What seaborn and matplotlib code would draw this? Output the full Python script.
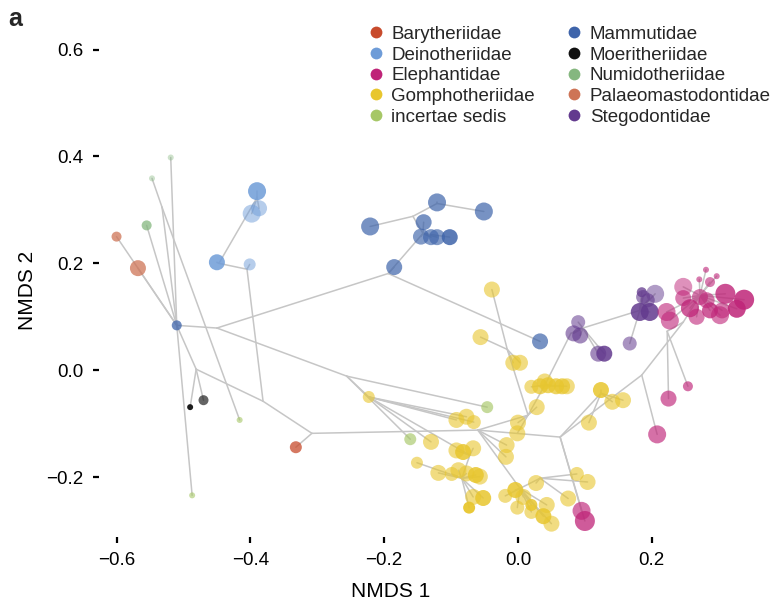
import matplotlib
matplotlib.use("Agg")
import matplotlib.pyplot as plt
from matplotlib.lines import Line2D
import numpy as np
import pandas as pd
import seaborn as sns

# ---- families and colours -------------------------------------------------
families = ["Barytheriidae", "Deinotheriidae", "Elephantidae", "Gomphotheriidae",
            "incertae sedis", "Mammutidae", "Moeritheriidae", "Numidotheriidae",
            "Palaeomastodontidae", "Stegodontidae"]
family_colors = ["#C84B2C", "#6E9CD8", "#BF2478", "#E8C62E", "#A6C766",
                 "#3E64AA", "#111111", "#85B77F", "#CE7456", "#633A8E"]

# ---- internal nodes of the phylogeny (NMDS coordinates) --------------------
node_name = ["R", "B", "N", "E1", "E2", "E3", "D1", "D2", "D3", "M0", "M1", "M2", "M3",
             "G0", "Y0", "EM0", "YA", "YB", "YC", "YD", "YE", "Y1", "YF", "ST0", "ST1",
             "EL0", "EL1", "EL2", "EL3", "PU0", "PU1", "PU2"]
node_x = [-0.510, -0.450, -0.532, -0.481, -0.381, -0.308, -0.405, -0.447, -0.390,
          -0.194, -0.142, -0.157, -0.121, -0.256, -0.223, -0.060, -0.072, -0.084,
          0.003, 0.033, 0.015, -0.016, 0.040, 0.063, 0.124, 0.185, 0.247, 0.272,
          0.223, 0.079, 0.097, 0.182]
node_y = [0.084, 0.079, 0.305, 0.002, -0.058, -0.118, 0.189, 0.200, 0.323,
          0.181, 0.256, 0.288, 0.312, -0.011, -0.050, -0.112, -0.159, -0.202,
          -0.221, -0.202, -0.084, 0.039, -0.028, -0.125, -0.043, -0.009, 0.090,
          0.140, 0.073, 0.069, 0.079, 0.112]
node_parent = [None, "R", "R", "R", "E1", "E2", "E2", "D1", "D2", "B", "M0", "M1", "M2",
               "B", "G0", "E3", "Y0", "YA", "EM0", "YC", "EM0", "YE", "YE", "EM0", "ST0",
               "ST0", "EL0", "EL1", "EL1", "YF", "PU0", "PU1"]

# ---- taxa (tips) ------------------------------------------------------------
tip_family = (["Palaeomastodontidae"] * 2 + ["Numidotheriidae"] * 3 + ["Deinotheriidae"] * 5
              + ["Mammutidae"] + ["Moeritheriidae"] * 2 + ["incertae sedis"] * 4
              + ["Barytheriidae"] + ["Mammutidae"] * 10 + ["Gomphotheriidae"] * 51
              + ["Stegodontidae"] * 12 + ["Elephantidae"] * 23)
tip_x = [-0.600, -0.568, -0.555, -0.547, -0.519, -0.390, -0.398, -0.387, -0.450, -0.401,
         -0.510, -0.470, -0.490, -0.416, -0.487, -0.046, -0.161, -0.332,
         -0.221, -0.185, -0.121, -0.141, -0.051, -0.145, -0.130, -0.121, -0.102, 0.033,
         # Gomphotheriidae
         -0.039, -0.056, -0.007, 0.003, 0.020, 0.033, 0.045, 0.040, 0.057, 0.066,
         0.073, 0.028, 0.124, 0.141, 0.157, 0.106, -0.092, -0.077, -0.066, 0.000,
         -0.001, -0.130, -0.092, -0.082, -0.067, -0.017, -0.018, -0.151, -0.119, -0.099,
         -0.089, -0.077, -0.063, -0.057, -0.067, -0.052, -0.073, -0.019, -0.004, 0.008,
         -0.001, 0.020, 0.020, 0.038, 0.043, 0.050, 0.027, 0.075, 0.088, 0.104, -0.223,
         # Stegodontidae
         0.090, 0.083, 0.093, 0.120, 0.129, 0.167, 0.185, 0.205, 0.187, 0.194, 0.182, 0.197,
         # Elephantidae
         0.247, 0.222, 0.227, 0.247, 0.257, 0.267, 0.282, 0.287, 0.302, 0.310, 0.327,
         0.338, 0.281, 0.271, 0.297, 0.287, 0.225, 0.254, 0.208, 0.095, 0.100, 0.272, 0.305]
tip_y = [0.250, 0.191, 0.271, 0.359, 0.398, 0.335, 0.293, 0.303, 0.202, 0.198,
         0.084, -0.056, -0.069, -0.093, -0.234, -0.069, -0.129, -0.144,
         0.269, 0.193, 0.314, 0.277, 0.297, 0.250, 0.249, 0.249, 0.249, 0.054,
         # Gomphotheriidae
         0.151, 0.062, 0.014, 0.014, -0.031, -0.030, -0.028, -0.021, -0.030, -0.030,
         -0.030, -0.069, -0.037, -0.059, -0.056, -0.098, -0.093, -0.087, -0.097, -0.098,
         -0.118, -0.134, -0.150, -0.153, -0.146, -0.140, -0.162, -0.173, -0.192, -0.194,
         -0.187, -0.193, -0.196, -0.199, -0.237, -0.239, -0.257, -0.235, -0.224, -0.237,
         -0.257, -0.252, -0.265, -0.273, -0.252, -0.287, -0.211, -0.240, -0.194, -0.209, -0.050,
         # Stegodontidae
         0.090, 0.069, 0.065, 0.031, 0.031, 0.050, 0.146, 0.143, 0.137, 0.131, 0.109, 0.109,
         # Elephantidae
         0.156, 0.109, 0.093, 0.135, 0.116, 0.100, 0.131, 0.112, 0.103, 0.143, 0.115,
         0.132, 0.188, 0.170, 0.176, 0.165, -0.053, -0.030, -0.120, -0.263, -0.282, 0.137, 0.112]
# body-size class (drives marker area)
tip_mass = [5, 8, 5, 3, 3, 9, 9, 8, 8, 6,
            5, 5, 3, 3, 3, 6, 6, 6,
            9, 8, 9, 8, 9, 8, 8, 8, 8, 8,
            8, 8, 8, 8, 7, 8, 8, 8, 8, 8,
            8, 8, 8, 8, 8, 8, 8, 8, 7, 8,
            8, 8, 8, 8, 8, 8, 8, 6, 8, 7,
            8, 8, 8, 8, 8, 8, 6, 7, 8, 8,
            7, 6, 7, 8, 8, 8, 8, 8, 7, 8, 6,
            7, 8, 8, 8, 8, 7, 5, 9, 7, 7, 9, 9,
            9, 9, 9, 8, 9, 8, 8, 8, 9, 10, 9,
            10, 3, 3, 3, 5, 8, 5, 9, 9, 10, 8, 8]
# stratigraphic recency (later taxa drawn more opaque)
tip_recency = [0.75, 0.75, 0.75, 0.4, 0.4, 0.85, 0.5, 0.5, 0.85, 0.5,
               0.75, 0.65, 0.95, 0.6, 0.6, 0.65, 0.65, 0.75,
               0.7, 0.7, 0.7, 0.7, 0.7, 0.65, 0.65, 0.65, 0.85, 0.7,
               0.6, 0.6, 0.6, 0.6, 0.6, 0.75, 0.75, 0.6, 0.75, 0.75,
               0.6, 0.6, 0.85, 0.6, 0.6, 0.6, 0.6, 0.6, 0.6, 0.6,
               0.6, 0.6, 0.6, 0.85, 0.6, 0.6, 0.6, 0.6, 0.6, 0.6,
               0.6, 0.6, 0.85, 0.6, 0.6, 0.85, 0.95, 0.6, 0.85, 0.6,
               0.6, 0.85, 0.6, 0.85, 0.6, 0.6, 0.6, 0.6, 0.6, 0.6, 0.6,
               0.55, 0.6, 0.6, 0.6, 0.85, 0.55, 0.75, 0.5, 0.6, 0.6, 0.85, 0.85,
               0.5, 0.6, 0.6, 0.6, 0.75, 0.6, 0.6, 0.75, 0.6, 0.8, 0.85,
               0.85, 0.6, 0.6, 0.6, 0.6, 0.65, 0.65, 0.65, 0.65, 0.75, 0.6, 0.6]
tip_parent = (["R", "R", "R", "N", "R", "D3", "D3", "D3", "D2", "D1",
               "R", "E1", "E1", "N", "R", "G0", "G0", "E3",
               "M2", "M0", "M3", "M1", "M3", "M1", "M1", "M1", "M1", "M0"]
              + ["Y1"] * 4 + ["YF"] * 7 + ["YE"] + ["ST1"] * 4 + ["Y0"] * 3 + ["YE"] * 2
              + ["Y0"] + ["YA"] * 3 + ["EM0"] * 2 + ["YB"] * 10 + ["YC"] * 9 + ["YD"] * 4
              + ["Y0"]
              + ["PU1"] * 5 + ["PU2"] * 7
              + ["EL2"] * 16 + ["EL3"] * 2 + ["EL0"] + ["ST0"] * 2 + ["EL2"] * 2)

# ---- assemble tables ------------------------------------------------------
tips = pd.DataFrame({"family": tip_family, "x": tip_x, "y": tip_y,
                     "mass": tip_mass, "recency": tip_recency, "parent": tip_parent})
nodes = pd.DataFrame({"name": node_name, "x": node_x, "y": node_y,
                      "parent": node_parent}).set_index("name")

rows = []
eid = 0
for name, nd in nodes.iterrows():
    if nd["parent"] is None:
        continue
    p = nodes.loc[nd["parent"]]
    rows += [(eid, p["x"], p["y"]), (eid, nd["x"], nd["y"])]
    eid += 1
for _, t in tips.iterrows():
    p = nodes.loc[t["parent"]]
    rows += [(eid, p["x"], p["y"]), (eid, t["x"], t["y"])]
    eid += 1
edges = pd.DataFrame(rows, columns=["edge", "x", "y"])

# ---- figure ---------------------------------------------------------------
sns.set_theme(style="white")
plt.rcParams["font.family"] = ["Liberation Sans", "DejaVu Sans"]

fig = plt.figure(figsize=(7.78, 6.12), dpi=100)
ax = fig.add_axes([0.127, 0.1225, 0.863, 0.8315])

sns.lineplot(data=edges, x="x", y="y", units="edge", estimator=None, sort=False,
             color="#C6C6C6", linewidth=1.1, legend=False, ax=ax, zorder=1)

palette = dict(zip(families, family_colors))
size_levels = sorted(set(tip_mass))
size_map = {m: (1.44 * m) ** 2 for m in size_levels}
sns.scatterplot(data=tips, x="x", y="y", hue="family", hue_order=families,
                palette=palette, size="mass", sizes=size_map, linewidth=0,
                legend=False, ax=ax, zorder=2)
coll = ax.collections[-1]
fc = coll.get_facecolors()
fc[:, 3] = tips["recency"].to_numpy()
coll.set_facecolors(fc)

ax.set_xlim(-0.6265, 0.377)
ax.set_ylim(-0.312, 0.64)
ax.set_xticks([-0.6, -0.4, -0.2, 0.0, 0.2])
ax.set_yticks([-0.2, 0.0, 0.2, 0.4, 0.6])
sns.despine(ax=ax, left=True, bottom=True)
ax.tick_params(axis="both", which="both", direction="out", length=4, width=1.6,
               color="black", labelsize=13.5, labelcolor="black", pad=7,
               left=True, bottom=True)
ax.set_xlabel("NMDS 1", fontsize=15, labelpad=9, color="black")
ax.set_ylabel("NMDS 2", fontsize=15, labelpad=7, color="black")
ax.xaxis.label.set_x(0.434)
ax.yaxis.label.set_y(0.485)

handles = [Line2D([], [], marker="o", linestyle="", markersize=8.5,
                  markerfacecolor=c, markeredgewidth=0, label=f)
           for f, c in zip(families, family_colors)]
ax.legend(handles=handles, ncol=2, loc="upper left", bbox_to_anchor=(0.393, 1.012),
          frameon=False, fontsize=13.5, handletextpad=0.33, columnspacing=1.6,
          labelspacing=0.19, handlelength=1.0, borderpad=0.2, borderaxespad=0.0)

fig.text(0.010, 0.988, "a", fontsize=18, fontweight="bold", va="top", ha="left")

fig.savefig("out.png", dpi=100)
